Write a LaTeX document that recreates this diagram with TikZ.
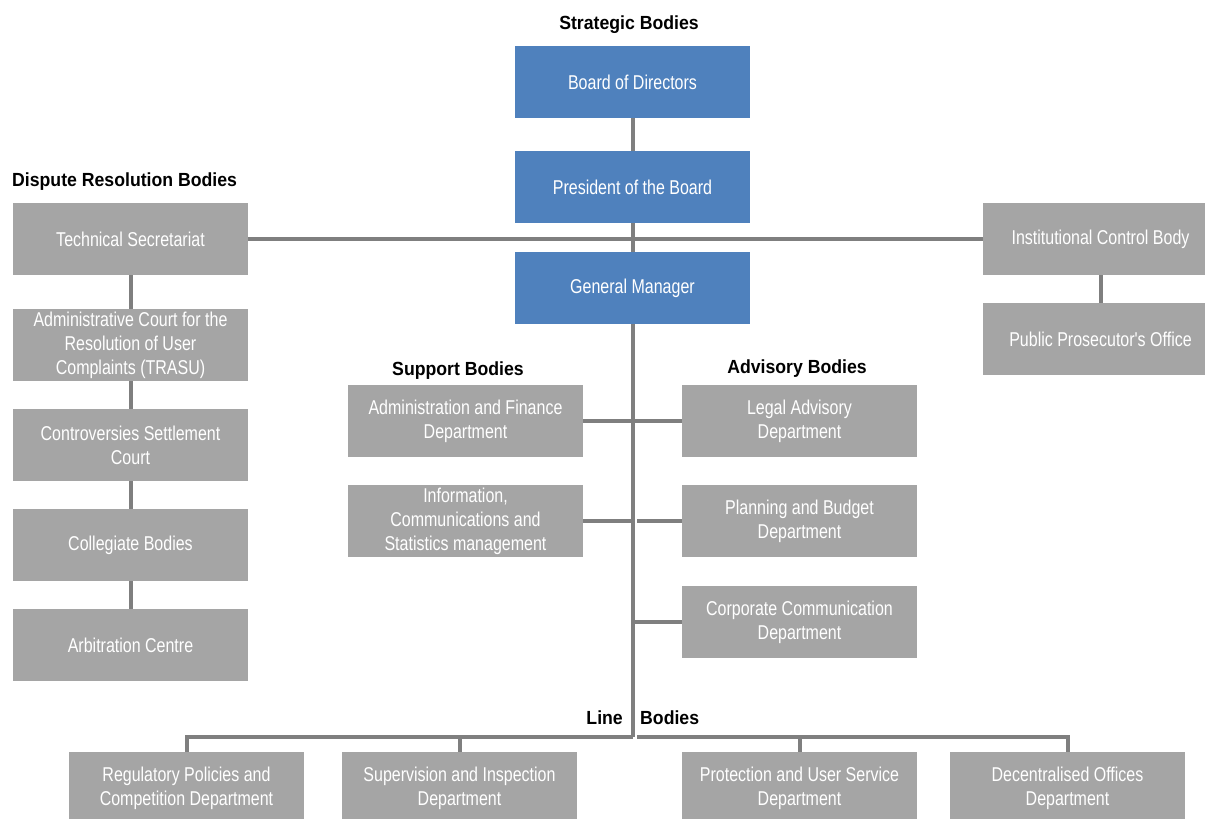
\documentclass[tikz,border=0pt]{standalone}
\usepackage{fontspec}
\setmainfont{Liberation Sans}
\newfontfamily\unitfont[FakeStretch=0.8]{Liberation Sans}
\newfontfamily\headfont[FakeStretch=0.93]{Liberation Sans}
\usetikzlibrary{backgrounds}
\definecolor{boardblue}{HTML}{4F81BD}
\definecolor{unitgrey}{HTML}{A5A5A5}
\definecolor{linkgrey}{HTML}{7F7F7F}
\tikzset{
  unit/.style={fill=unitgrey, text=white, minimum width=235pt, minimum height=72pt,
    inner sep=0pt, align=center, font=\unitfont\fontsize{20}{24}\selectfont},
  topunit/.style={unit, fill=boardblue},
  heading/.style={font=\headfont\bfseries\fontsize{19}{22}\selectfont, inner sep=0pt, anchor=base},
  link/.style={draw=linkgrey, line width=4pt}
}
\begin{document}
\begin{tikzpicture}[x=1pt, y=-1pt]
\useasboundingbox (0,0) rectangle (1205,819);
\clip (0,0) rectangle (1205,819);

% headings
\node[heading] (hstrat) at (629,29) {Strategic Bodies};
\node[heading, anchor=base west] (hdisp) at (12,186) {Dispute Resolution Bodies};
\node[heading] (hsupp) at (458,375) {Support Bodies};
\node[heading] (hadv) at (797,373) {Advisory Bodies};
\node[heading, anchor=base east] (hline1) at (623,724) {Line};
\node[heading, anchor=base west] (hline2) at (640,724) {Bodies};

% strategic bodies
\node[topunit] (board) at (632.5,82) {Board of Directors};
\node[topunit] (pres) at (632.5,187) {President of the Board};
\node[topunit] (gm) at (632.5,288) {General Manager};

% dispute resolution bodies
\node[unit] (tech) at (130.5,239) {Technical Secretariat};
\node[unit] (trasu) at (130.5,345) {Administrative Court for the\\Resolution of User\\Complaints (TRASU)};
\node[unit] (contr) at (130.5,445) {Controversies Settlement\\Court};
\node[unit] (coll) at (130.5,545) {Collegiate Bodies};
\node[unit] (arb) at (130.5,645) {Arbitration Centre};

% control bodies
\node[unit] (icb) at (1100.5,239) {Institutional Control Body};
\node[unit] (ppo) at (1100.5,339) {Public Prosecutor's Office};

% support bodies
\node[unit] (admin) at (465.5,421) {Administration and Finance\\Department};
\node[unit] (info) at (465.5,521) {Information,\\Communications and\\Statistics management};

% advisory bodies
\node[unit] (legal) at (799.5,421) {Legal Advisory\\Department};
\node[unit] (plan) at (799.5,521) {Planning and Budget\\Department};
\node[unit] (corp) at (799.5,622) {Corporate Communication\\Department};

% line bodies
\node[unit] (reg) at (186.5,788) {Regulatory Policies and\\Competition Department};
\node[unit] (sup) at (459.5,788) {Supervision and Inspection\\Department};
\node[unit] (prot) at (799.5,788) {Protection and User Service\\Department};
\node[unit] (dec) at (1067.5,788) {Decentralised Offices\\Department};

% bus points on the main trunk
\coordinate (busL) at (632.5,737);
\coordinate (busR) at (637,737);
\coordinate (tp2) at (632.5,521);
\coordinate (tp2r) at (637,521);
\coordinate (tp3) at (632.5,622);

\begin{pgfonlayer}{background}
  \draw[link] (board.south) -- (busL);
  \draw[link] (tech.east) -- (icb.west);
  \draw[link] (icb.south) -- (ppo.north);
  \draw[link] (tech.south) -- (trasu.north);
  \draw[link] (trasu.south) -- (contr.north);
  \draw[link] (contr.south) -- (coll.north);
  \draw[link] (coll.south) -- (arb.north);
  \draw[link] (admin.east) -- (legal.west);
  \draw[link] (info.east) -- (tp2);
  \draw[link] (tp2r) -- (plan.west);
  \draw[link] (tp3) -- (corp.west);
  \draw[link] (busL) -| (reg.north);
  \draw[link] (sup.north) -- (sup.north |- busL);
  \draw[link] (busR) -| (dec.north);
  \draw[link] (prot.north) -- (prot.north |- busR);
\end{pgfonlayer}
\end{tikzpicture}
\end{document}
